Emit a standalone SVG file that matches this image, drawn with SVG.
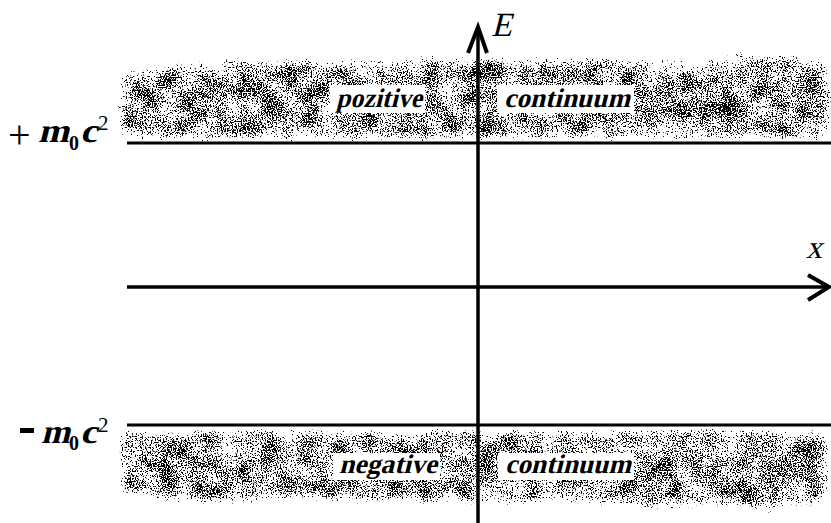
<svg xmlns="http://www.w3.org/2000/svg" width="831" height="523" viewBox="0 0 831 523">
<defs>
<filter id="stipple" x="-5%" y="-20%" width="110%" height="140%" color-interpolation-filters="sRGB">
  <feTurbulence type="fractalNoise" baseFrequency="0.8" numOctaves="1" seed="4" result="n1"/>
  <feColorMatrix in="n1" type="matrix" values="0 0 0 0 0  0 0 0 0 0  0 0 0 0 0  1 0 0 0 0" result="a1"/>
  <feTurbulence type="fractalNoise" baseFrequency="0.05" numOctaves="2" seed="9" result="n2"/>
  <feColorMatrix in="n2" type="matrix" values="0 0 0 0 0  0 0 0 0 0  0 0 0 0 0  1 0 0 0 0" result="a2"/>
  <feGaussianBlur in="SourceAlpha" stdDeviation="7" result="a3"/>
  <feComposite in="a1" in2="a2" operator="arithmetic" k1="0" k2="0.55" k3="0.2" k4="0" result="s12"/>
  <feComposite in="s12" in2="a3" operator="arithmetic" k1="0" k2="1" k3="0.25" k4="-0.05" result="s"/>
  <feComponentTransfer in="s" result="t">
    <feFuncA type="linear" slope="40" intercept="-23.3"/>
  </feComponentTransfer>
  <feComposite in="t" in2="SourceAlpha" operator="in"/>
</filter>
</defs>
<style>
  .band { fill: #000; filter: url(#stipple); }
  .box { fill: #fff; }
  text { font-family: "Liberation Serif", "Times New Roman", serif; fill: #000; }
  .lbl { font-weight: bold; font-size: 27px; }
  .bi { font-weight: bold; }
  .ln { stroke: #000; fill: none; }
</style>
<rect width="831" height="523" fill="#fff"/>

<g id="band-positive">
  <path class="band" d="M118,141 L118,75 Q135,60 160,66 Q185,55 210,62 Q240,52 270,60 Q300,54 330,62 Q360,55 395,60 Q430,52 460,58 Q490,50 520,60 Q550,52 580,58 Q615,52 650,62 Q680,56 700,64 Q730,50 760,52 Q790,55 815,58 L831,58 L831,141 Z"/>
  <rect class="box" x="330" y="85" width="95" height="28"/>
  <text class="lbl" transform="translate(336,107) skewX(-14)" textLength="86" lengthAdjust="spacingAndGlyphs">pozitive</text>
  <rect class="box" x="497" y="85" width="137" height="28"/>
  <text class="lbl" transform="translate(504,107) skewX(-14)" textLength="126" lengthAdjust="spacingAndGlyphs">continuum</text>
</g>

<g id="band-negative">
  <path class="band" d="M118,429 L831,429 L831,500 Q810,512 790,505 Q770,520 750,510 Q720,505 700,508 Q670,512 650,508 Q620,504 590,506 Q560,500 530,506 Q500,504 480,508 Q450,500 420,505 Q390,500 360,505 Q330,498 300,502 Q270,498 240,504 Q210,508 190,505 Q160,500 140,498 Q125,494 118,488 Z"/>
  <rect class="box" x="333" y="453" width="107" height="27"/>
  <text class="lbl" transform="translate(339,473) skewX(-14)" textLength="98" lengthAdjust="spacingAndGlyphs">negative</text>
  <rect class="box" x="498" y="453" width="136" height="27"/>
  <text class="lbl" transform="translate(505,473) skewX(-14)" textLength="126" lengthAdjust="spacingAndGlyphs">continuum</text>
</g>

<g id="label-plus">
  <text x="8" y="148" font-size="40">+</text>
  <text class="bi" transform="translate(38,142) skewX(-14)" font-size="34" textLength="31" lengthAdjust="spacingAndGlyphs">m</text>
  <text class="bi" x="69" y="150" font-size="20">0</text>
  <text class="bi" transform="translate(80,142) skewX(-14)" font-size="34" textLength="17" lengthAdjust="spacingAndGlyphs">c</text>
  <text x="98" y="130" font-size="21">2</text>
</g>

<g id="label-minus">
  <rect x="20" y="428" width="14" height="5" fill="#000"/>
  <text class="bi" transform="translate(41,443) skewX(-14)" font-size="34" textLength="29" lengthAdjust="spacingAndGlyphs">m</text>
  <text class="bi" x="69" y="450" font-size="20">0</text>
  <text class="bi" transform="translate(80,443) skewX(-14)" font-size="34" textLength="17" lengthAdjust="spacingAndGlyphs">c</text>
  <text x="98" y="432" font-size="21">2</text>
</g>

<g id="label-E">
  <text transform="translate(491,36) skewX(-14)" font-size="34">E</text>
</g>
<g id="label-x">
  <text transform="translate(806,258) skewX(-14)" font-size="32">x</text>
</g>

<g id="connectors">
  <line class="ln" x1="127" y1="143" x2="831" y2="143" stroke-width="3"/>
  <line class="ln" x1="127" y1="425" x2="831" y2="425" stroke-width="3"/>
  <line class="ln" x1="127" y1="287" x2="829" y2="287" stroke-width="3.5"/>
  <polyline class="ln" points="808,275 829,287 808,300" stroke-width="4"/>
  <line class="ln" x1="478" y1="523" x2="478" y2="28" stroke-width="3.5"/>
  <polyline class="ln" points="468,53 478,27 487,53" stroke-width="4"/>
</g>
</svg>
